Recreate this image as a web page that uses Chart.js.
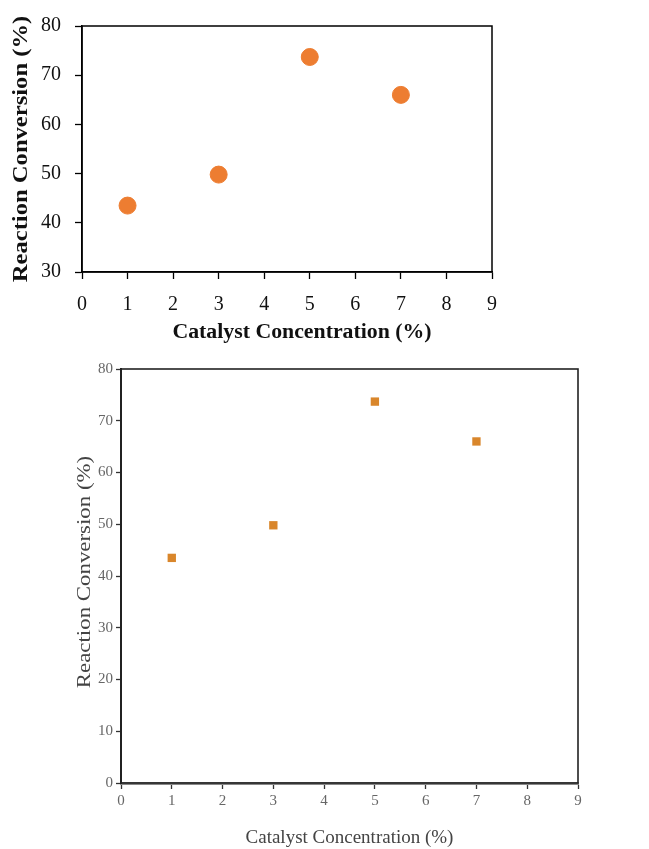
<!DOCTYPE html>
<html>
<head>
<meta charset="utf-8">
<script src="https://cdn.jsdelivr.net/npm/chart.js@4/dist/chart.umd.min.js"></script>
<style>
  html, body { margin: 0; padding: 0; background: #fff; }
  body { width: 649px; height: 849px; position: relative; overflow: hidden; }
  .box { position: absolute; }
  #topBox { left: 0; top: 0; width: 604px; height: 345px; }
  #bottomBox { left: 0; top: 340px; width: 649px; height: 509px; }
</style>
</head>
<body>
<div class="box" id="topBox"><canvas id="topChart"></canvas></div>
<div class="box" id="bottomBox"><canvas id="bottomChart"></canvas></div>
<script>
// Catalyst loading (%) against measured reaction conversion (%)
const catalystConcentration = [1, 3, 5, 7];
const reactionConversion = [43.5, 49.8, 73.7, 66.0];

const xTicks = [0, 1, 2, 3, 4, 5, 6, 7, 8, 9];
const yTicksTop = [30, 40, 50, 60, 70, 80];
const yTicksBottom = [0, 10, 20, 30, 40, 50, 60, 70, 80];

const xTitle = 'Catalyst Concentration (%)';
const yTitle = 'Reaction Conversion (%)';

const points = catalystConcentration.map((c, i) => ({ x: c, y: reactionConversion[i] }));

// Outline of the plotting area (top and right edges included)
function framePlugin(color, width) {
  return {
    id: 'frame',
    afterDatasetsDraw(chart) {
      const a = chart.chartArea, ctx = chart.ctx;
      ctx.save();
      ctx.strokeStyle = color;
      ctx.lineWidth = width;
      ctx.strokeRect(a.left, a.top, a.right - a.left, a.bottom - a.top);
      ctx.restore();
    }
  };
}

// Axis title drawn at a given spot, optionally rotated and widened along its baseline
function titlePlugin(id, text, font, color, getPos, rotate, stretch) {
  return {
    id,
    afterDraw(chart) {
      const ctx = chart.ctx;
      const p = getPos(chart);
      ctx.save();
      ctx.translate(p.x, p.y);
      if (rotate) ctx.rotate(-Math.PI / 2);
      ctx.scale(stretch, 1);
      ctx.fillStyle = color;
      ctx.font = font;
      ctx.textAlign = 'center';
      ctx.textBaseline = 'middle';
      ctx.fillText(text, 0, 0);
      ctx.restore();
    }
  };
}

function fixedTicks(values) {
  return function (scale) {
    scale.ticks = values.map(v => ({ value: v }));
  };
}

Chart.defaults.animation = false;

// Upper panel: large orange circles, bold axis titles
new Chart(document.getElementById('topChart'), {
  type: 'scatter',
  data: {
    datasets: [{
      data: points,
      backgroundColor: '#ED7D31',
      borderColor: '#ED7D31',
      pointRadius: 8.5,
      pointHoverRadius: 8.5
    }]
  },
  options: {
    responsive: true,
    maintainAspectRatio: false,
    layout: { padding: { left: 0, right: 112, top: 23, bottom: 6 } },
    plugins: { legend: { display: false }, tooltip: { enabled: false } },
    scales: {
      x: {
        type: 'linear', min: 0, max: 9,
        afterBuildTicks: fixedTicks(xTicks),
        afterFit(scale) { scale.height = 67; },
        grid: { drawOnChartArea: false, color: '#000', tickLength: 7, tickWidth: 1.3 },
        border: { color: '#000', width: 1.5 },
        ticks: { color: '#111', padding: 14, maxRotation: 0,
                 font: { family: 'Liberation Serif', size: 20 } },
        title: { display: false }
      },
      y: {
        type: 'linear', min: 30, max: 80,
        afterBuildTicks: fixedTicks(yTicksTop),
        afterFit(scale) { scale.width = 82; },
        grid: { drawOnChartArea: false, color: '#000', tickLength: 7, tickWidth: 1.3 },
        border: { color: '#000', width: 1.5 },
        ticks: { color: '#111', padding: 14,
                 font: { family: 'Liberation Serif', size: 20 } },
        title: { display: false }
      }
    }
  },
  plugins: [
    framePlugin('#000', 1.5),
    titlePlugin('xTitleTop', xTitle, 'bold 20px "Liberation Serif"', '#111',
      c => ({ x: c.width / 2, y: 333 }), false, 1.09),
    titlePlugin('yTitleTop', yTitle, 'bold 20px "Liberation Serif"', '#111',
      c => ({ x: 22, y: (c.chartArea.top + c.chartArea.bottom) / 2 }), true, 1.23)
  ]
});

// Lower panel: small square markers, full 0–80 range
new Chart(document.getElementById('bottomChart'), {
  type: 'scatter',
  data: {
    datasets: [{
      data: points,
      pointStyle: 'rect',
      backgroundColor: '#D9862B',
      borderColor: '#D9862B',
      borderWidth: 0,
      pointRadius: 5.9,
      pointHoverRadius: 5.9
    }]
  },
  options: {
    responsive: true,
    maintainAspectRatio: false,
    layout: { padding: { left: 0, right: 71, top: 29, bottom: 0 } },
    plugins: { legend: { display: false }, tooltip: { enabled: false } },
    scales: {
      x: {
        type: 'linear', min: 0, max: 9,
        afterBuildTicks: fixedTicks(xTicks),
        afterFit(scale) { scale.height = 66; },
        grid: { drawOnChartArea: false, color: '#333', tickLength: 6, tickWidth: 1.3 },
        border: { color: '#888', width: 3 },
        ticks: { color: '#666', padding: 3, maxRotation: 0,
                 font: { family: 'Liberation Serif', size: 15 } },
        title: { display: false }
      },
      y: {
        type: 'linear', min: 0, max: 80,
        afterBuildTicks: fixedTicks(yTicksBottom),
        afterFit(scale) { scale.width = 121; },
        grid: { drawOnChartArea: false, color: '#333', tickLength: 5, tickWidth: 1.3 },
        border: { color: '#222', width: 2 },
        ticks: { color: '#666', padding: 3,
                 font: { family: 'Liberation Serif', size: 15 } },
        title: { display: false }
      }
    }
  },
  plugins: [
    framePlugin('#222', 1.6),
    titlePlugin('xTitleBottom', xTitle, '19px "Liberation Serif"', '#444',
      c => ({ x: (c.chartArea.left + c.chartArea.right) / 2, y: 498 }), false, 1.0),
    titlePlugin('yTitleBottom', yTitle, '18px "Liberation Serif"', '#444',
      c => ({ x: 85, y: (c.chartArea.top + c.chartArea.bottom) / 2 - 4 }), true, 1.27)
  ]
});
</script>
</body>
</html>
